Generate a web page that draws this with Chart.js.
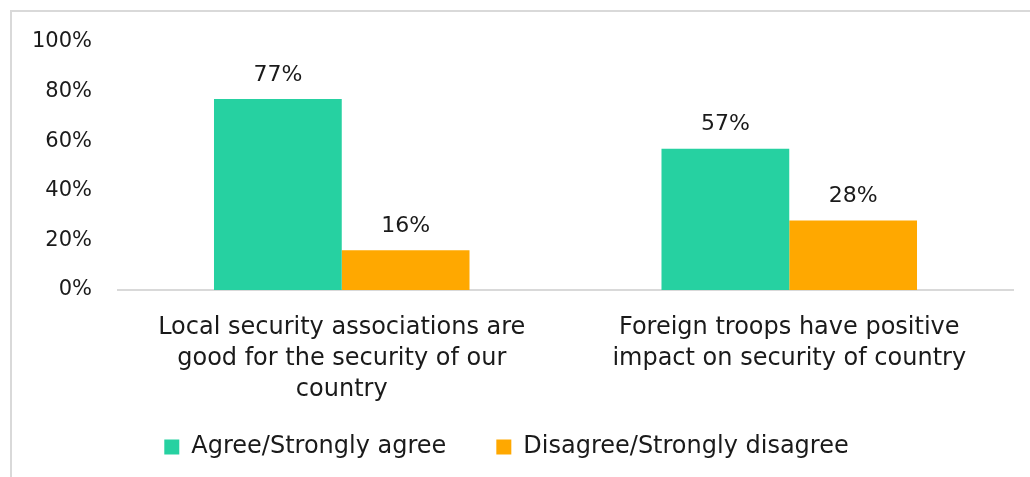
<!DOCTYPE html>
<html>
<head>
<meta charset="utf-8">
<script src="https://cdn.jsdelivr.net/npm/chart.js@4"></script>
<style>
  html, body { margin: 0; padding: 0; background: #fff; }
  #wrap { position: relative; width: 1030px; height: 477px; overflow: hidden; }
  #frame { position: absolute; left: 10px; top: 10px; width: 1200px; height: 700px;
           border-left: 2px solid #d9d9d9; border-top: 2px solid #d9d9d9; }
  canvas { position: absolute; left: 0; top: 0; }
</style>
</head>
<body>
<div id="wrap">
  <div id="frame"></div>
  <canvas id="barChart" width="1030" height="477"></canvas>
</div>
<script>
const categories = [
    ['Local security associations are', 'good for the security of our', 'country'],
    ['Foreign troops have positive', 'impact on security of country']
];
const agree = [77, 57];
const disagree = [16, 28];
const yTicks = [0, 20, 40, 60, 80, 100];

const fontFamily = "'DejaVu Sans', sans-serif";
const textColor = '#1a1a1a';

// draws the value on top of each bar
const valueLabels = {
    id: 'valueLabels',
    afterDatasetsDraw(chart) {
        const ctx = chart.ctx;
        ctx.save();
        ctx.font = '22px ' + fontFamily;
        ctx.fillStyle = textColor;
        ctx.textAlign = 'center';
        ctx.textBaseline = 'middle';
        chart.data.datasets.forEach((ds, i) => {
            chart.getDatasetMeta(i).data.forEach((bar, j) => {
                ctx.fillText(ds.data[j] + '%', bar.x, bar.y - 24);
            });
        });
        ctx.restore();
    }
};

const ctx = document.getElementById('barChart').getContext('2d');
const myChart = new Chart(ctx, {
    type: 'bar',
    data: {
        labels: categories,
        datasets: [{
            label: 'Agree/Strongly agree',
            data: agree,
            backgroundColor: '#26d1a1'
        }, {
            label: 'Disagree/Strongly disagree',
            data: disagree,
            backgroundColor: '#ffa800'
        }]
    },
    options: {
        responsive: false,
        animation: false,
        layout: {
            padding: { left: 0, right: 17, top: 42, bottom: 8 }
        },
        datasets: {
            bar: { categoryPercentage: 0.571, barPercentage: 1.0 }
        },
        plugins: {
            tooltip: { enabled: false },
            legend: {
                position: 'bottom',
                labels: {
                    boxWidth: 15,
                    boxHeight: 15,
                    padding: 50,
                    color: textColor,
                    font: { family: fontFamily, size: 24 }
                }
            }
        },
        scales: {
            x: {
                grid: { display: false },
                border: { display: true, color: '#d9d9d9', width: 2 },
                ticks: {
                    color: textColor,
                    padding: 14,
                    maxRotation: 0,
                    autoSkip: false,
                    font: { family: fontFamily, size: 24, lineHeight: 1.3 }
                },
                afterFit(scale) {
                    scale.height = 95;
                    // let the third label line run past the scale box
                    scale._computeLabelArea = () => undefined;
                }
            },
            y: {
                min: 0,
                max: 100,
                afterBuildTicks(scale) { scale.ticks = yTicks.map(v => ({ value: v })); },
                grid: { display: false, drawTicks: false },
                border: { display: false },
                ticks: {
                    color: textColor,
                    padding: 26,
                    font: { family: fontFamily, size: 21 },
                    callback: v => v + '%'
                },
                afterFit(scale) { scale.width = 118; }
            }
        }
    },
    plugins: [valueLabels]
});
</script>
</body>
</html>
